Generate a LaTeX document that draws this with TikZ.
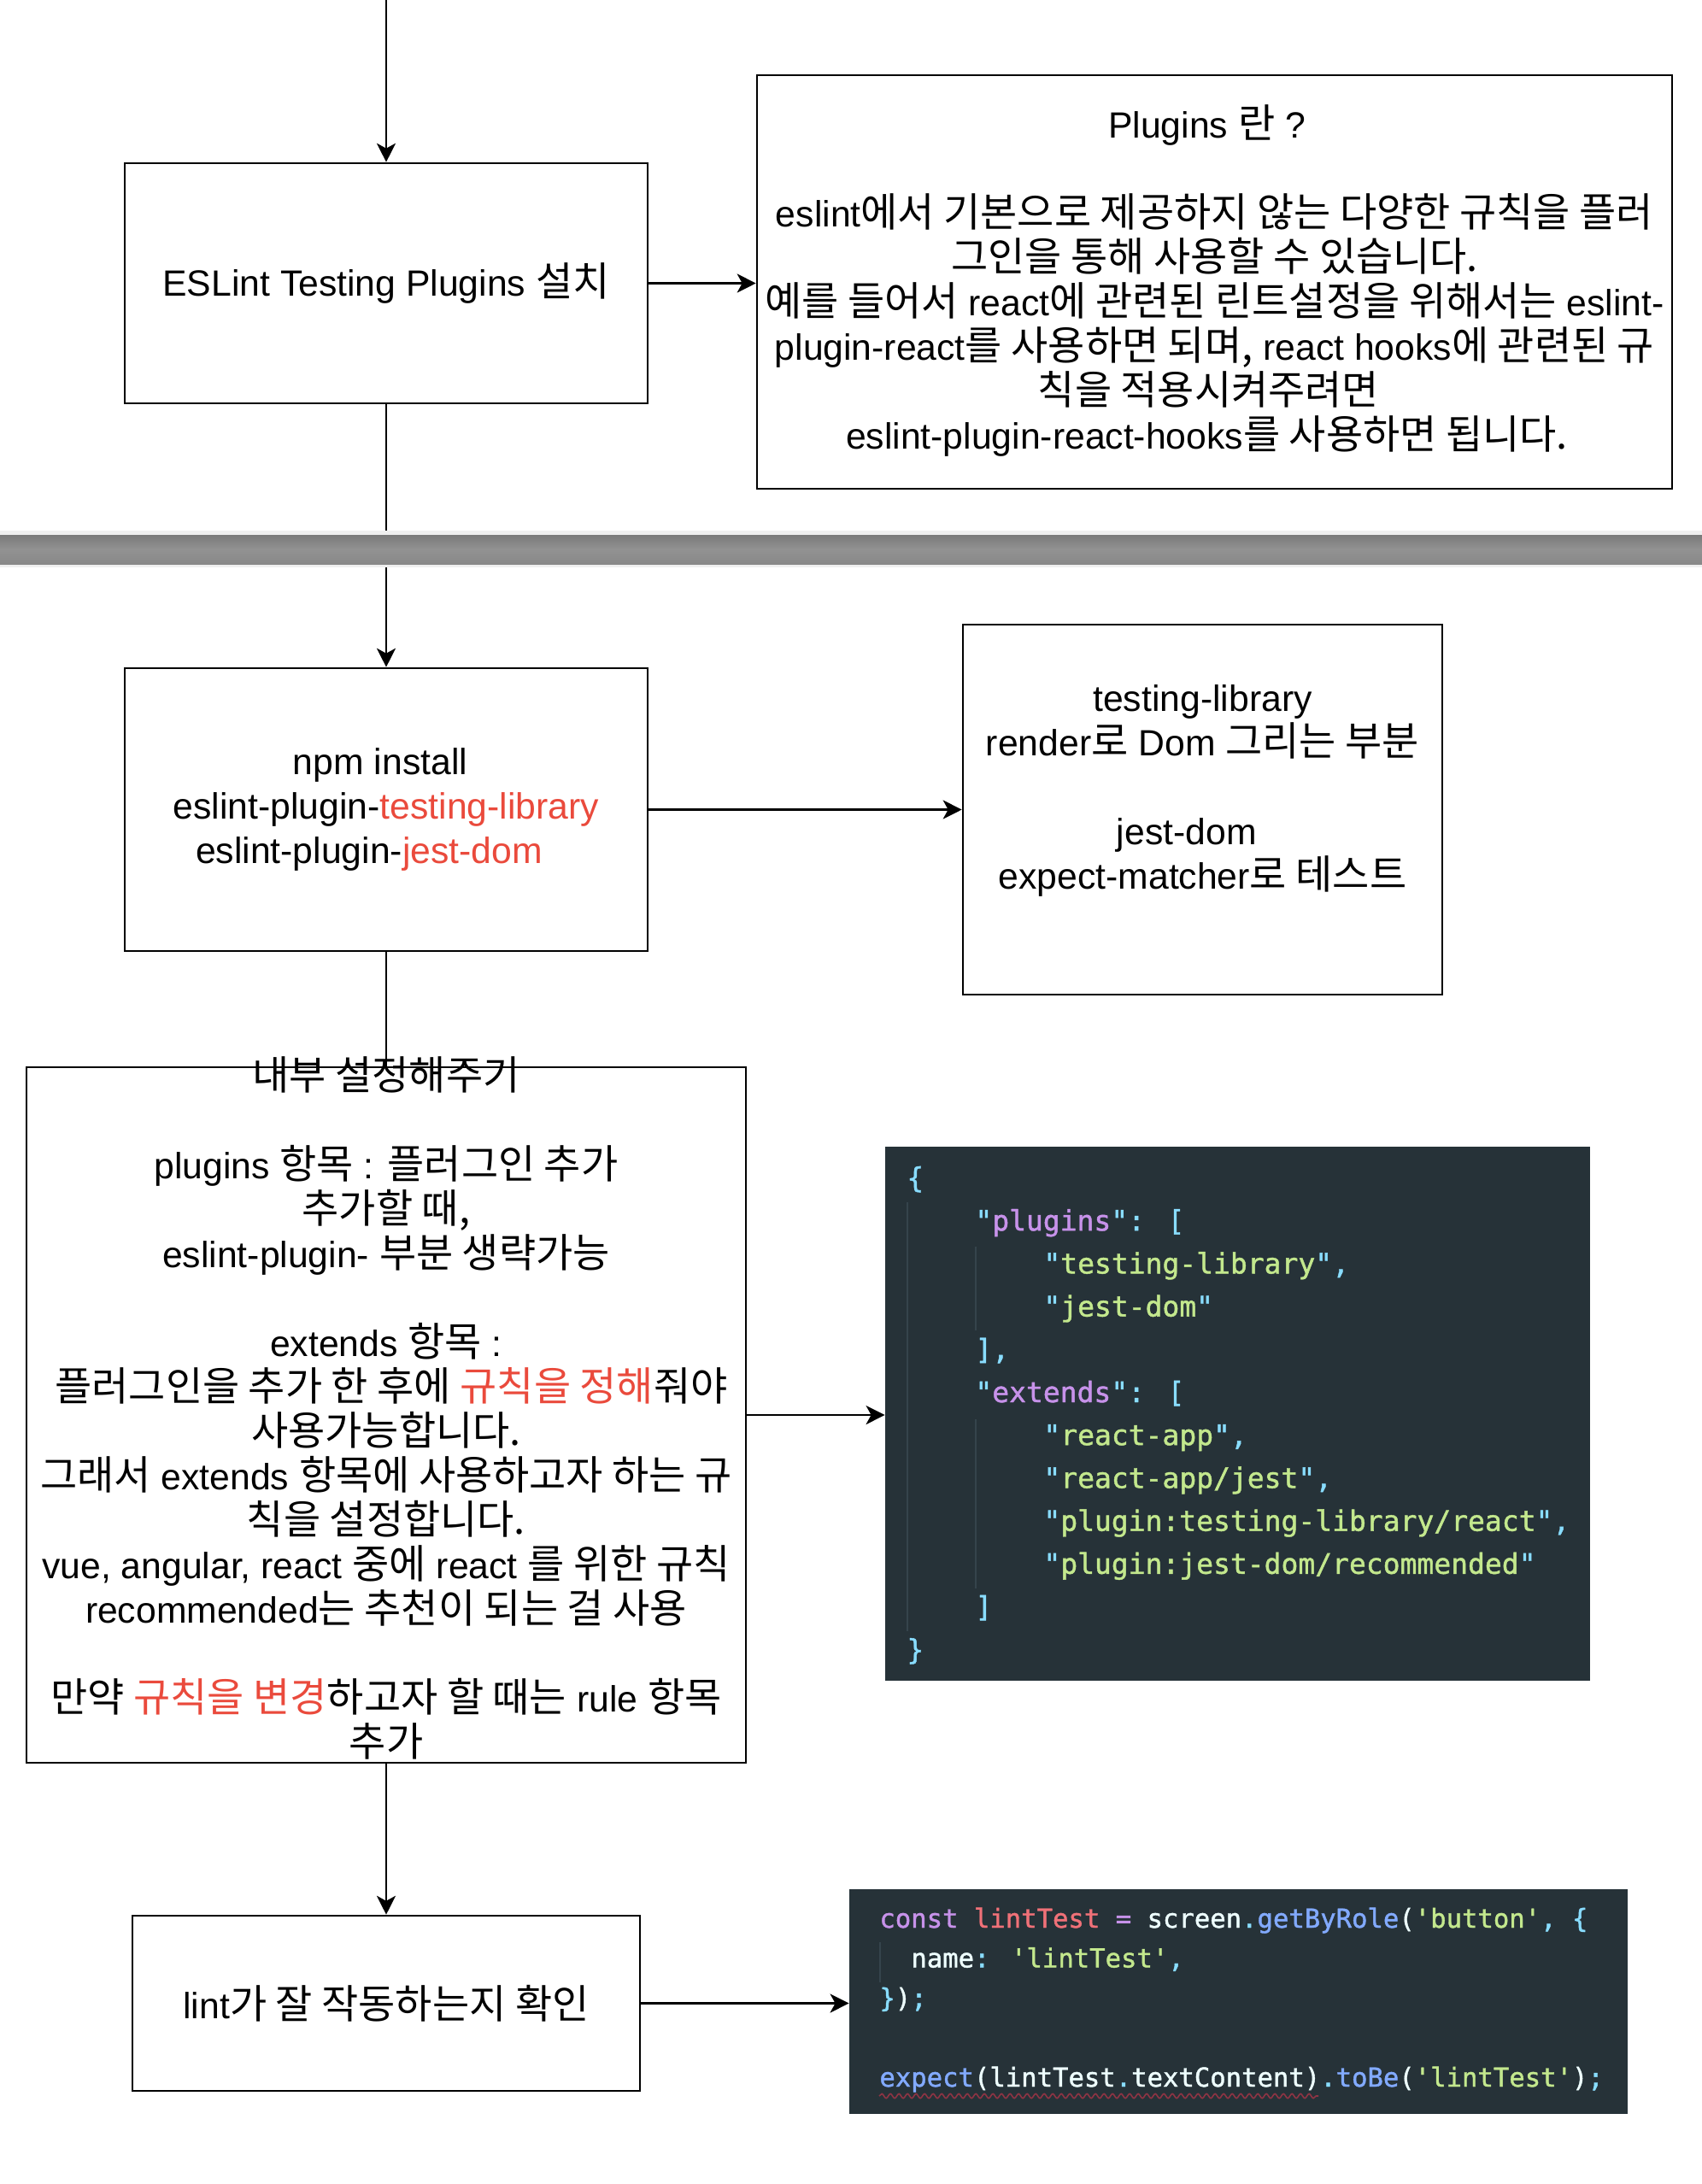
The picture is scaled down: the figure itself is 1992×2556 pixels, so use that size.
\documentclass[tikz,border=0pt]{standalone}
\usepackage{fontspec}
\setmainfont{Liberation Sans}
\newfontfamily\krfont[Scale=1.1]{Noto Sans CJK KR}
\newfontfamily\codefont[Ligatures=TeXOff,FakeBold=1.3]{DejaVu Sans Mono}
\usetikzlibrary{arrows.meta,decorations.pathmorphing}
\definecolor{redtxt}{RGB}{234,74,60}
\definecolor{codebg}{HTML}{263238}
\definecolor{cpur}{HTML}{C792EA}
\definecolor{cgrn}{HTML}{C3E88D}
\definecolor{ccya}{HTML}{89DDFF}
\definecolor{cred}{HTML}{F07178}
\definecolor{cblu}{HTML}{82AAFF}
\definecolor{cwht}{HTML}{EEFFFF}
\definecolor{cguide}{HTML}{35444C}
\definecolor{squig}{HTML}{8E3444}
\definecolor{barlight}{HTML}{EFEFEF}
\definecolor{bartop}{HTML}{7A7A7A}
\definecolor{barmid}{HTML}{929292}
\definecolor{barbot}{HTML}{888888}
\newcommand\hg[1]{{\krfont #1}}
\newcommand\trail[1]{\rule{#1}{0pt}}
\newcommand\mainsize{\fontsize{21.35pt}{26pt}\selectfont}
\newcommand\codeA{\codefont\fontsize{16.5pt}{20pt}\selectfont}
\newcommand\codeB{\codefont\fontsize{15.3pt}{20pt}\selectfont}
\newcommand\cq{\textcolor{ccya}{"}}
\tikzset{
  box/.style={draw=black, fill=white, line width=1.3pt, inner sep=0pt, align=center, font=\mainsize},
  txt/.style={inner sep=0pt, align=center, font=\mainsize},
  arr/.style={line width=1.3pt, -{Stealth[length=11pt,width=11pt,inset=3pt]}},
  plain/.style={line width=1.3pt},
  codebox/.style={fill=codebg, draw=none, inner sep=0pt},
  cA/.style={inner sep=0pt, anchor=base west, font=\codeA},
  cB/.style={inner sep=0pt, anchor=base west, font=\codeB},
  guide/.style={draw=cguide, line width=0.6pt}
}
\begin{document}
\begin{tikzpicture}[x=0.5pt,y=-0.5pt]
\useasboundingbox (0,0) rectangle (1992,2556);
\fill[white] (0,0) rectangle (1992,2556);

% boxes
\node[box, minimum width=306pt, minimum height=140.5pt] (box1) at (452,331.5) {ESLint Testing Plugins \hg{설치}};
\node[box, minimum width=535.5pt, minimum height=242pt] (plug) at (1421.5,330) {};
\node[txt] (plugtxt) at (1421.5,329) {Plugins \hg{란} ?\trail{9pt}\\[26pt]
eslint\hg{에서 기본으로 제공하지 않는 다양한 규칙을 플러}\\
\hg{그인을 통해 사용할 수 있습니다.}\\
\hg{예를 들어서} react\hg{에 관련된 린트설정을 위해서는} eslint-\\
plugin-react\hg{를 사용하면 되며,} react hooks\hg{에 관련된 규}\\
\hg{칙을 적용시켜주려면}\trail{7pt}\\
eslint-plugin-react-hooks\hg{를 사용하면 됩니다.}\trail{9pt}};

\node[box, minimum width=306pt, minimum height=165.5pt] (box2) at (452,947.5) {npm install\trail{7pt}\\
eslint-plugin-\textcolor{redtxt}{testing-library}\\
eslint-plugin-\textcolor{redtxt}{jest-dom}\trail{20pt}};

\node[box, minimum width=280.5pt, minimum height=216.5pt] (box3) at (1407.5,947.5) {testing-library\\
render\hg{로} Dom \hg{그리는 부분}\\[26pt]
jest-dom\trail{18.7pt}\\
expect-matcher\hg{로 테스트}\\ \mbox{}};

\node[box, minimum width=421pt, minimum height=407pt] (box4) at (452,1656) {};
\node[txt] (box4txt) at (452,1648) {\hg{내부 설정해주기}\\[26pt]
plugins \hg{항목} : \hg{플러그인 추가}\\
\hg{추가할 때,}\\
eslint-plugin- \hg{부분 생략가능}\\[26pt]
extends \hg{항목} :\\
\hspace*{6pt}\hg{플러그인을 추가 한 후에 \textcolor{redtxt}{규칙을 정해}줘야}\\
\hg{사용가능합니다.}\\
\hg{그래서} extends \hg{항목에 사용하고자 하는 규}\\
\hg{칙을 설정합니다.}\\
vue, angular, react \hg{중에} react \hg{를 위한 규칙}\\
recommended\hg{는 추천이 되는 걸 사용}\\[26pt]
\hg{만약 \textcolor{redtxt}{규칙을 변경}하고자 할 때는} rule \hg{항목}\\
\hg{추가}};

\node[box, minimum width=297pt, minimum height=102.5pt] (box5) at (452,2344.5) {lint\hg{가 잘 작동하는지 확인}};

% code block 1
\node[codebox, minimum width=412.5pt, minimum height=312.5pt] (code1) at (1448.5,1654.5) {};
\draw[guide] (1062,1407) -- (1062,1909);
\draw[guide] (1142,1459) -- (1142,1557);
\draw[guide] (1142,1661) -- (1142,1859);
\node[cA] (c1a) at (1061,1390) {\textcolor{ccya}{\{}};
\node[cA] (c1b) at (1141,1440.2) {\cq\textcolor{cpur}{plugins}\textcolor{ccya}{": [}};
\node[cA] (c1c) at (1221,1490.4) {\cq\textcolor{cgrn}{testing-library}\textcolor{ccya}{",}};
\node[cA] (c1d) at (1221,1540.6) {\cq\textcolor{cgrn}{jest-dom}\cq};
\node[cA] (c1e) at (1141,1590.8) {\textcolor{ccya}{],}};
\node[cA] (c1f) at (1141,1641) {\cq\textcolor{cpur}{extends}\textcolor{ccya}{": [}};
\node[cA] (c1g) at (1221,1691.2) {\cq\textcolor{cgrn}{react-app}\textcolor{ccya}{",}};
\node[cA] (c1h) at (1221,1741.4) {\cq\textcolor{cgrn}{react-app/jest}\textcolor{ccya}{",}};
\node[cA] (c1i) at (1221,1791.6) {\cq\textcolor{cgrn}{plugin:testing-library/react}\textcolor{ccya}{",}};
\node[cA] (c1j) at (1221,1841.8) {\cq\textcolor{cgrn}{plugin:jest-dom/recommended}\cq};
\node[cA] (c1k) at (1141,1892) {\textcolor{ccya}{]}};
\node[cA] (c1l) at (1061,1942.2) {\textcolor{ccya}{\}}};

% code block 2
\node[codebox, minimum width=455.5pt, minimum height=131.5pt] (code2) at (1449.5,2342.5) {};
\draw[guide] (1030,2273) -- (1030,2320);
\node[cB] (c2a) at (1029,2256) {\textcolor{cpur}{const} \textcolor{cred}{lintTest} \textcolor{cpur}{=} \textcolor{cwht}{screen}\textcolor{ccya}{.}\textcolor{cblu}{getByRole}\textcolor{cwht}{(}\textcolor{cgrn}{'button'}\textcolor{ccya}{,} \textcolor{ccya}{\{}};
\node[cB] (c2b) at (1066,2302.5) {\textcolor{cwht}{name}\textcolor{ccya}{:} \textcolor{cgrn}{'lintTest'}\textcolor{ccya}{,}};
\node[cB] (c2c) at (1029,2349) {\textcolor{ccya}{\}}\textcolor{cwht}{)}\textcolor{ccya}{;}};
\node[cB] (c2d) at (1029,2442) {\textcolor{cblu}{expect}\textcolor{cwht}{(lintTest}\textcolor{ccya}{.}\textcolor{cwht}{textContent)}\textcolor{ccya}{.}\textcolor{cblu}{toBe}\textcolor{cwht}{(}\textcolor{cgrn}{'lintTest'}\textcolor{cwht}{)}\textcolor{ccya}{;}};
\draw[draw=squig, line width=0.8pt, decorate, decoration={snake, amplitude=1.3pt, segment length=5pt}] (1029,2453) -- (1543,2453);

% connectors
\coordinate (start) at (452,0);
\draw[arr] (start) -- (box1.north);
\draw[arr] (box1.east) -- (box1.east -| plug.west);
\draw[arr] (box1.south) -- (box2.north);
\draw[arr] (box2.east) -- (box2.east -| box3.west);
\draw[plain] (box2.south) -- (box4.north);
\draw[arr] (box4.east) -- (box4.east -| code1.west);
\draw[arr] (box4.south) -- (box5.north);
\draw[arr] (box5.east) -- (box5.east -| code2.west);

% screenshot seam bar
\fill[barlight] (0,621) rectangle (1992,664);
\shade[top color=bartop, bottom color=barbot, middle color=barmid] (0,626) rectangle (1992,660);
\end{tikzpicture}
\end{document}
